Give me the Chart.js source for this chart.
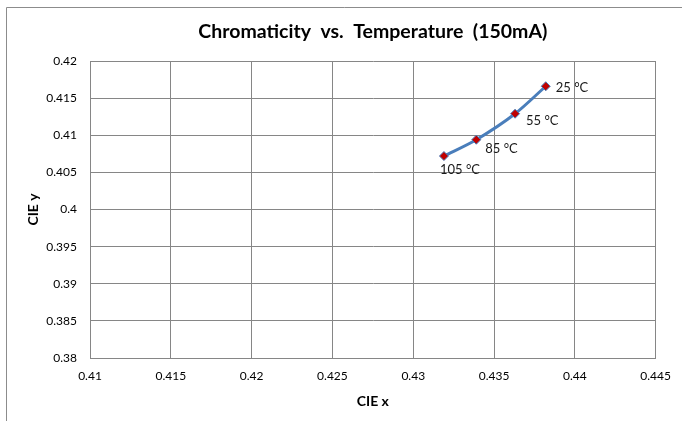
<!DOCTYPE html>
<html>
<head>
<meta charset="utf-8">
<script src="https://cdn.jsdelivr.net/npm/chart.js@4/dist/chart.umd.min.js"></script>
<style>
  html, body { margin: 0; padding: 0; background: #fff; }
  #wrap { width: 682px; height: 421px; position: relative; }
</style>
</head>
<body>
<div id="wrap"><canvas id="chromaChart" width="682" height="421"></canvas></div>
<script>
// Chromaticity points, 25 °C first
const tempLabels = ['25 °C', '55 °C', '85 °C', '105 °C'];
const cieX = [0.4382, 0.4363, 0.4339, 0.4319];
const cieY = [0.4166, 0.4129, 0.4094, 0.4072];
const chartTitle = 'Chromaticity  vs.  Temperature  (150mA)';

const xMin = 0.41, xMax = 0.445, yMin = 0.38, yMax = 0.42, step = 0.005;

const points = cieX.map((x, i) => ({ x: x, y: cieY[i] }));

const gridColor = '#868686';
const fontFamily = 'Lato, "Open Sans", sans-serif';

// chart frame line (left + top) and title centred over the plot area
const framePlugin = {
    id: 'frame',
    beforeDraw(chart) {
        const ctx = chart.ctx;
        const area = chart.chartArea;
        ctx.save();
        ctx.strokeStyle = '#8c8c8c';
        ctx.lineWidth = 1;
        ctx.beginPath();
        ctx.moveTo(6.5, chart.height);
        ctx.lineTo(6.5, 7.5);
        ctx.lineTo(chart.width, 7.5);
        ctx.stroke();

        ctx.font = 'bold 19.5px ' + fontFamily;
        ctx.fillStyle = '#000';
        ctx.textAlign = 'center';
        ctx.textBaseline = 'middle';
        ctx.fillText(chartTitle, (area.left + area.right) / 2, 32);
        ctx.restore();
    }
};

// temperature labels next to each point
const labelOffsets = [[10, 2], [11, 7], [9, 9], [-4, 14]];
const pointLabels = {
    id: 'pointLabels',
    afterDatasetsDraw(chart) {
        const ctx = chart.ctx;
        const meta = chart.getDatasetMeta(0);
        ctx.save();
        ctx.font = '13px ' + fontFamily;
        ctx.fillStyle = '#1a1a1a';
        ctx.textAlign = 'left';
        ctx.textBaseline = 'middle';
        meta.data.forEach((pt, i) => {
            const off = labelOffsets[i];
            ctx.fillText(tempLabels[i], pt.x + off[0], pt.y + off[1]);
        });
        ctx.restore();
    }
};

const fmt = v => String(+v.toFixed(3));

new Chart(document.getElementById('chromaChart'), {
    type: 'scatter',
    data: {
        datasets: [{
            label: 'CIE',
            data: points,
            showLine: true,
            borderColor: '#4a7ebb',
            borderWidth: 3,
            tension: 0.3,
            pointStyle: 'rectRot',
            pointRadius: 4.5,
            pointBackgroundColor: '#c00000',
            pointBorderColor: '#4a7ebb',
            pointBorderWidth: 1
        }]
    },
    options: {
        responsive: false,
        animation: false,
        devicePixelRatio: 1,
        layout: { padding: { left: 0, right: 26, top: 61, bottom: 0 } },
        plugins: {
            legend: { display: false },
            tooltip: { enabled: false },
            title: { display: false }
        },
        scales: {
            x: {
                type: 'linear',
                min: xMin,
                max: xMax,
                afterFit(scale) { scale.height = 63; },
                grid: { color: gridColor, drawTicks: false },
                border: { color: gridColor },
                ticks: {
                    stepSize: step,
                    padding: 11,
                    color: '#000',
                    font: { family: fontFamily, size: 12 },
                    callback: fmt
                },
                title: {
                    display: true,
                    text: 'CIE x',
                    color: '#000',
                    font: { family: fontFamily, size: 14, weight: 'bold' },
                    padding: { top: 0, bottom: 11 }
                }
            },
            y: {
                type: 'linear',
                min: yMin,
                max: yMax,
                afterFit(scale) { scale.width = 90; },
                grid: { color: gridColor, drawTicks: false },
                border: { color: gridColor },
                ticks: {
                    stepSize: step,
                    padding: 13,
                    color: '#000',
                    font: { family: fontFamily, size: 12 },
                    callback: fmt
                },
                title: {
                    display: true,
                    text: 'CIE y',
                    color: '#000',
                    font: { family: fontFamily, size: 14, weight: 'bold' },
                    padding: { top: 25, bottom: 0 }
                }
            }
        }
    },
    plugins: [framePlugin, pointLabels]
});
</script>
</body>
</html>
